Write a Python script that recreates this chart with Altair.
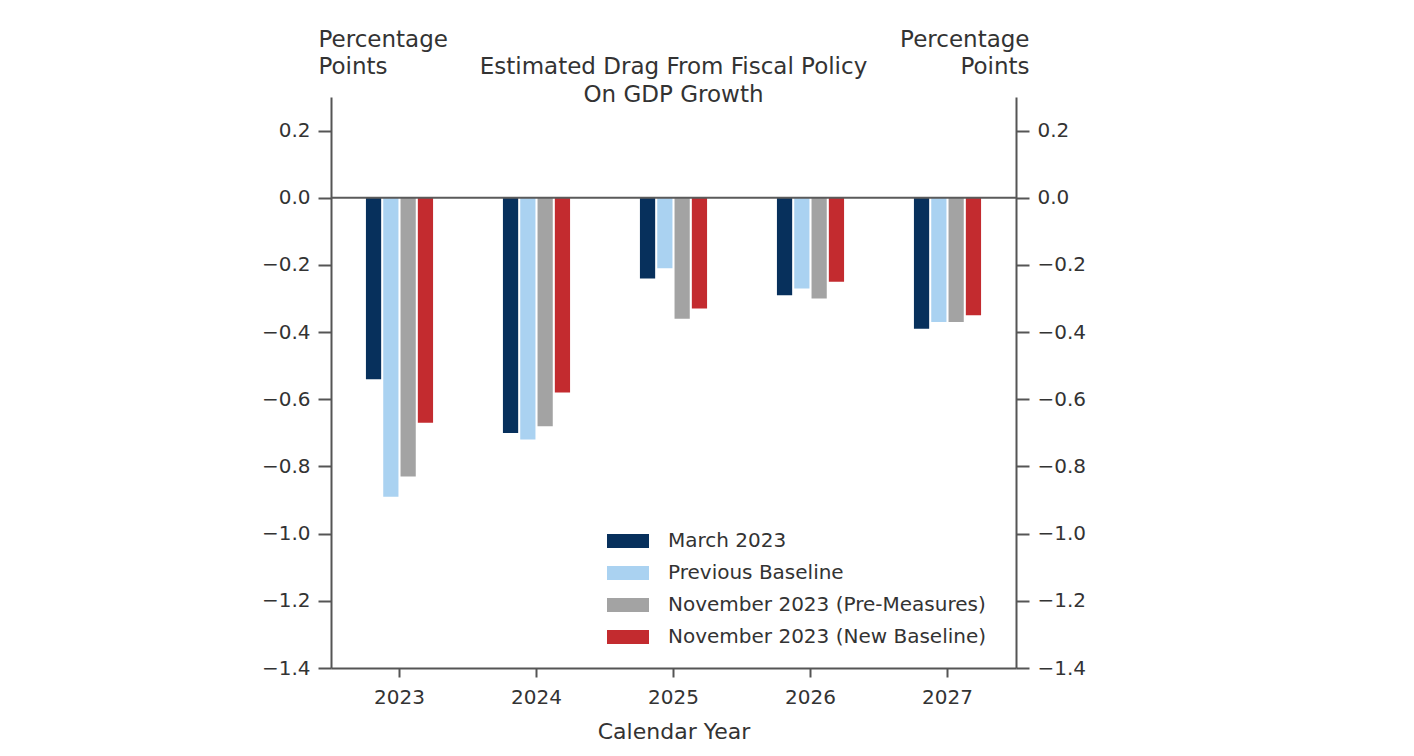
import altair as alt
import pandas as pd

years = ["2023", "2024", "2025", "2026", "2027"]
series = ["March 2023", "Previous Baseline",
          "November 2023 (Pre-Measures)", "November 2023 (New Baseline)"]
march_2023 = [-0.54, -0.70, -0.24, -0.29, -0.39]
previous_baseline = [-0.89, -0.72, -0.21, -0.27, -0.37]
nov_pre_measures = [-0.83, -0.68, -0.36, -0.30, -0.37]
nov_new_baseline = [-0.67, -0.58, -0.33, -0.25, -0.35]
colors = ["#07305c", "#aad2f1", "#a3a3a3", "#c32b2f"]
y_ticks = [-1.4, -1.2, -1.0, -0.8, -0.6, -0.4, -0.2, 0.0, 0.2]

rows = []
for s, vals in zip(series, [march_2023, previous_baseline, nov_pre_measures, nov_new_baseline]):
    for yr, v in zip(years, vals):
        rows.append({"year": yr, "series": s, "value": v})
df = pd.DataFrame(rows)
zero_df = pd.DataFrame({"zero": [0.0]})

FONT = "DejaVu Sans"
TXT = "#333333"
AX = "#555555"
ydom = [-1.4, 0.3]

bars = alt.Chart(df).mark_bar().encode(
    x=alt.X("year:N", sort=years,
            scale=alt.Scale(paddingInner=0.51, paddingOuter=0.255),
            axis=alt.Axis(title="Calendar Year", labelAngle=0, labelFontSize=20,
                          titleFontSize=22, titleFontWeight="normal",
                          labelPadding=10, titlePadding=14, tickSize=9,
                          domainColor=AX, tickColor=AX, domainWidth=2, tickWidth=2,
                          labelColor=TXT, titleColor=TXT, labelFont=FONT, titleFont=FONT)),
    xOffset=alt.XOffset("series:N", sort=series, scale=alt.Scale(paddingInner=0.12)),
    y=alt.Y("value:Q", scale=alt.Scale(domain=ydom, nice=False, zero=False),
            axis=alt.Axis(values=y_ticks, format=".1f", grid=False,
                          title=["Percentage", "Points"], titleAngle=0,
                          titleAlign="left", titleBaseline="alphabetic",
                          titleX=-13, titleY=-51, titleFontSize=23,
                          titleFontWeight="normal", titleLineHeight=27,
                          labelFontSize=20, tickSize=13, labelPadding=8,
                          domainColor=AX, tickColor=AX, domainWidth=2, tickWidth=2,
                          labelColor=TXT, titleColor=TXT, labelFont=FONT, titleFont=FONT)),
    y2=alt.Y2(datum=0),
    color=alt.Color("series:N", sort=series,
                    scale=alt.Scale(domain=series, range=colors),
                    legend=alt.Legend(title=None, orient="none", legendX=287, legendY=434,
                                      symbolType="M-3,-1H3V1H-3Z", symbolSize=196,
                                      symbolStrokeWidth=0, labelOffset=30, labelLimit=0,
                                      labelFontSize=20, labelFont=FONT, labelColor=TXT,
                                      rowPadding=12, padding=0)),
)

zero_rule = alt.Chart(zero_df).mark_rule(color="#5a5a5a", strokeWidth=2).encode(
    y=alt.Y("zero:Q", scale=alt.Scale(domain=ydom, nice=False, zero=False),
            axis=alt.Axis(orient="right", values=y_ticks, format=".1f", grid=False,
                          title=["Percentage", "Points"], titleAngle=0,
                          titleAlign="right", titleBaseline="alphabetic",
                          titleX=13, titleY=-51, titleFontSize=23,
                          titleFontWeight="normal", titleLineHeight=27,
                          labelFontSize=20, tickSize=13, labelPadding=8,
                          domainColor=AX, tickColor=AX, domainWidth=2, tickWidth=2,
                          labelColor=TXT, titleColor=TXT, labelFont=FONT, titleFont=FONT)),
)

chart = alt.layer(bars, zero_rule).resolve_scale(y="independent").properties(
    width=685, height=571,
    background="white",
    autosize=alt.AutoSizeParams(type="none"),
    padding={"left": 323, "top": 89, "right": 390, "bottom": 80},
    title=alt.TitleParams(["Estimated Drag From Fiscal Policy", "On GDP Growth"],
                          fontSize=23, fontWeight="normal", font=FONT, color=TXT,
                          anchor="middle", frame="group", baseline="middle",
                          offset=0, dy=90, lineHeight=28),
).configure_view(stroke=None, strokeWidth=0)

chart.save("out.html", embed_options={"renderer": "svg", "actions": False})
